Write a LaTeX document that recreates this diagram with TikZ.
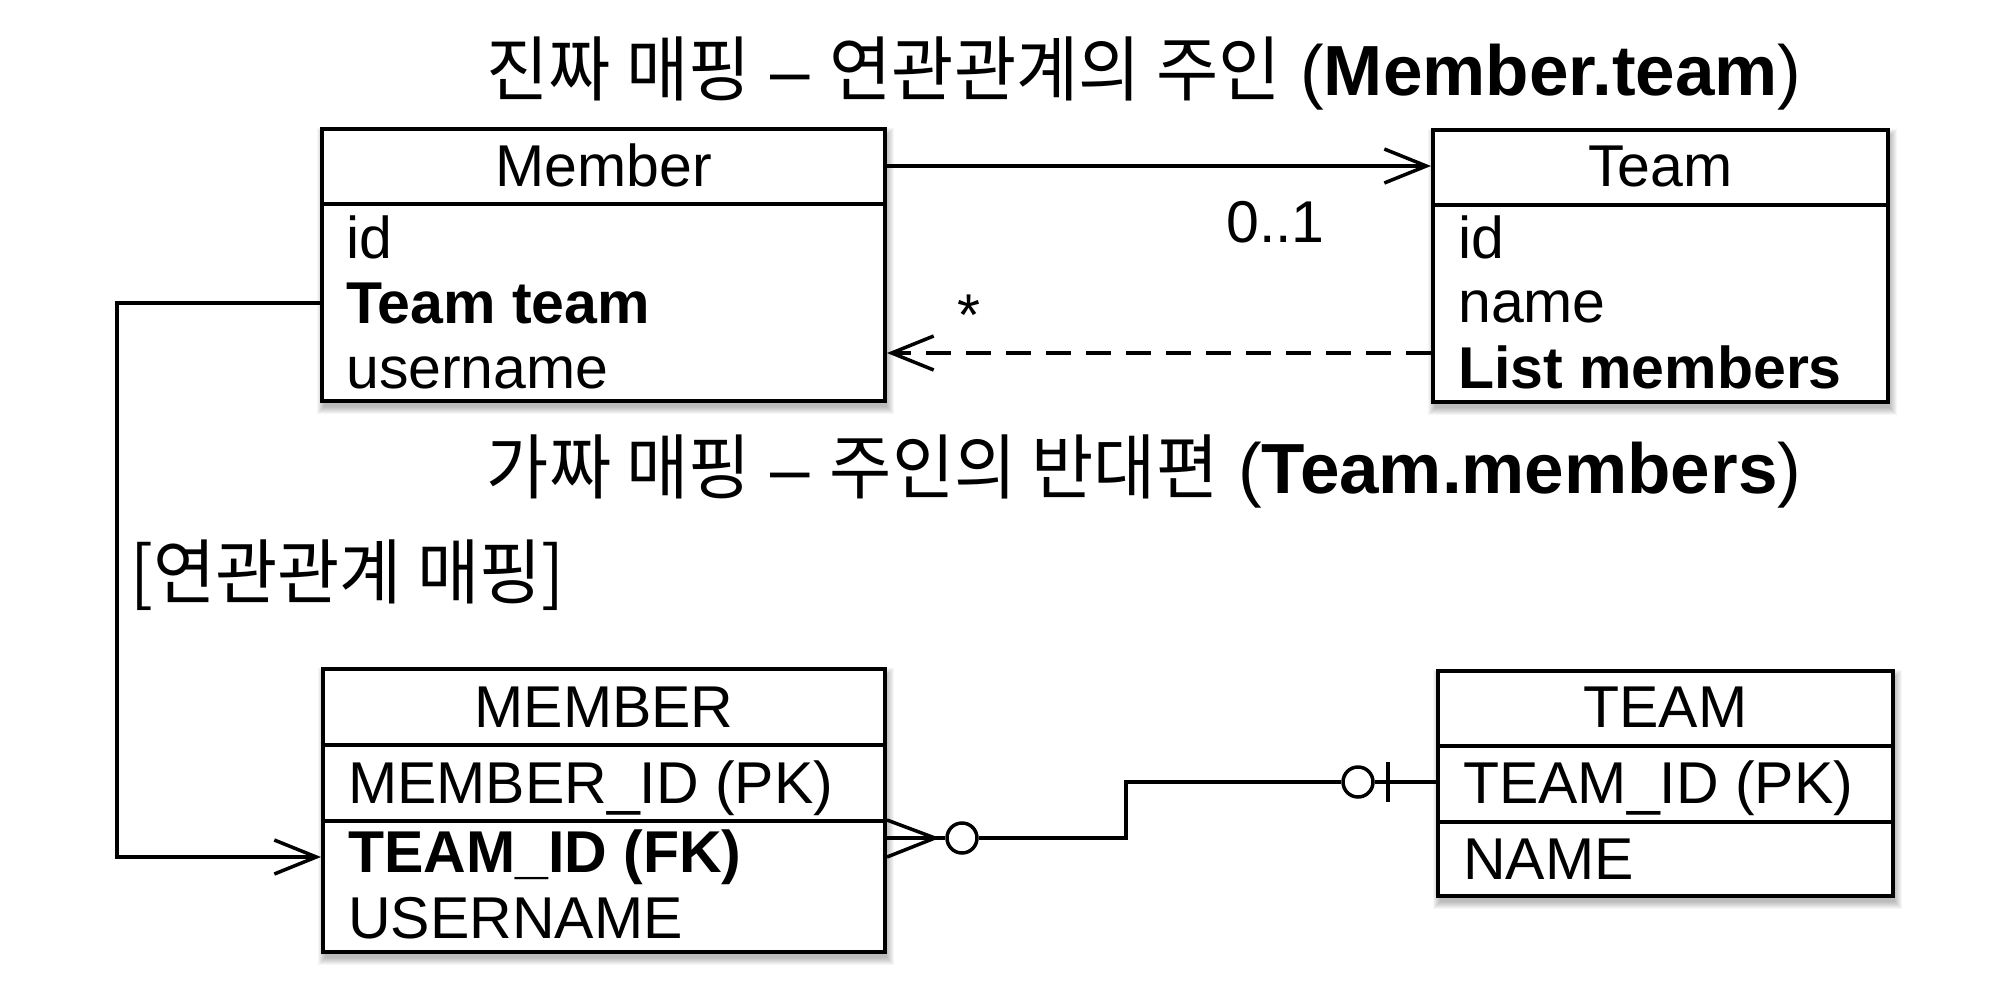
\documentclass[tikz,border=0pt]{standalone}
\usepackage{fontspec}
\setmainfont{Liberation Sans}
\newfontfamily\krfont[FakeStretch=0.953]{Noto Sans CJK KR}
\usetikzlibrary{arrows.meta}
\newcommand\boxshadow[4]{%
  \foreach \sh in {0,...,7}{%
    \fill[black,opacity=0.035] ({#1-\sh+2},{#2-\sh+6}) rectangle ({#3+\sh+2},{#4+\sh+6});}}
\begin{document}
\begin{tikzpicture}[x=1pt,y=-1pt,
  box/.style={draw, line width=4pt, fill=white, inner sep=0pt, rectangle},
  divider/.style={line width=4pt},
  body/.style={font=\fontsize{59}{70}\selectfont, inner sep=0pt, anchor=base west},
  head/.style={font=\fontsize{59}{70}\selectfont, inner sep=0pt, anchor=base},
  ttl/.style={font=\fontsize{71}{80}\selectfont, inner sep=0pt, anchor=base},
  conn/.style={line width=3.5pt},
  barb/.style={-{Straight Barb[length=42pt,width=34pt]}},
  ring/.style={circle, draw, line width=3.5pt, minimum size=30pt, inner sep=0pt, fill=white}]
\useasboundingbox (0,0) rectangle (2000,983);
\fill[white] (0,0) rectangle (2000,983);

% shadows
\boxshadow{322}{129}{885}{401}
\boxshadow{1433}{130}{1888}{402}
\boxshadow{323}{669}{885}{952}
\boxshadow{1438}{671}{1893}{896}

% titles
\node[ttl] (title1) at (1144,95) {{\krfont 진짜 매핑} – {\krfont 연관관계의 주인} (\textbf{Member.team})};
\node[ttl] (title2) at (1144,493) {{\krfont 가짜 매핑} – {\krfont 주인의 반대편} (\textbf{Team.members})};
\node[ttl, anchor=base west] (maplabel) at (130,598) {{\krfont [연관관계 매핑]}};

% Member class
\node[box, minimum width=563pt, minimum height=272pt] (member) at (603.5,265) {};
\draw[divider] (member.west |- 0,204) -- (member.east |- 0,204);
\node[head] (memberT) at (603.5,186) {Member};
\node[body] (m1) at (346,258) {id};
\node[body] (m2) at (346,323) {\textbf{Team team}};
\node[body] (m3) at (346,388) {username};

% Team class
\node[box, minimum width=455pt, minimum height=272pt] (team) at (1660.5,266) {};
\draw[divider] (team.west |- 0,205) -- (team.east |- 0,205);
\node[head] (teamT) at (1660.5,186) {Team};
\node[body] (t1) at (1458,258) {id};
\node[body] (t2) at (1458,322) {name};
\node[body] (t3) at (1458,388) {\textbf{List members}};

% MEMBER table
\node[box, minimum width=562pt, minimum height=283pt] (mtable) at (604,810.5) {};
\draw[divider] (mtable.west |- 0,745) -- (mtable.east |- 0,745);
\draw[divider] (mtable.west |- 0,821) -- (mtable.east |- 0,821);
\node[head] (mtableT) at (604,727) {MEMBER};
\node[body] (mt1) at (348,803) {MEMBER\_ID (PK)};
\node[body] (mt2) at (348,872) {\textbf{TEAM\_ID (FK)}};
\node[body] (mt3) at (348,938) {USERNAME};

% TEAM table
\node[box, minimum width=455pt, minimum height=225pt] (ttable) at (1665.5,783.5) {};
\draw[divider] (ttable.west |- 0,746) -- (ttable.east |- 0,746);
\draw[divider] (ttable.west |- 0,822) -- (ttable.east |- 0,822);
\node[head] (ttableT) at (1665.5,727) {TEAM};
\node[body] (tt1) at (1463,803) {TEAM\_ID (PK)};
\node[body] (tt2) at (1463,879) {NAME};

% multiplicities
\node[body] (mult1) at (1226,242) {0..1};
\node[body] (mult2) at (957,335) {*};

% object connectors
\draw[conn, barb] (member.east |- 0,166) -- (team.west |- 0,166);
\draw[conn, barb, dash pattern=on 25pt off 15pt] (team.west |- 0,353) -- (member.east |- 0,353);
\draw[conn, barb] (member.west |- 0,303) -- (117,303) -- (117,857) -- (mtable.west |- 0,857);

% ER connector
\node[ring] (c1) at (962,838) {};
\node[ring] (c2) at (1358,782) {};
\draw[conn, line join=miter] (mtable.east |- 0,820) -- (935,838) -- (mtable.east |- 0,857);
\draw[conn] (mtable.east |- c1) -- (c1);
\draw[conn] (c1) -- (1126,838) -- (1126,782) -- (c2);
\draw[conn] (c2) -- (ttable.west |- c2);
\draw[conn] (1388,762) -- (1388,802);
\end{tikzpicture}
\end{document}
